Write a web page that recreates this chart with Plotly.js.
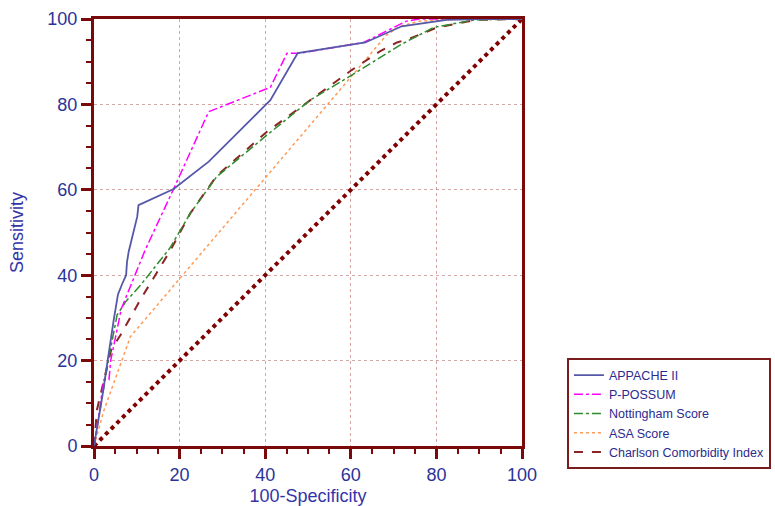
<!DOCTYPE html>
<html>
<head>
<meta charset="utf-8">
<script src="https://cdn.plot.ly/plotly-3.0.1.min.js"></script>
<style>html,body{margin:0;padding:0;background:#fff;}#chart{width:775px;height:506px;}</style>
</head>
<body>
<div id="chart"></div>
<script>
// Data
const apacheX = [0, 2, 4.6, 5.6, 6.6, 7.5, 7.7, 8.1, 10.1, 10.4, 18.6, 26.8, 41.2, 47.6, 63.4, 71.9, 82.4, 90, 100];
const apacheY = [0, 12, 29.5, 35.5, 38, 40, 43, 45.5, 53.7, 56.4, 60.2, 66.6, 81, 92, 94.5, 98.3, 99.8, 100, 100];

const possumX = [0, 0.4, 2.3, 3.5, 3.9, 6.4, 12, 18.6, 26.8, 41.2, 45.1, 48.2, 63, 73, 76, 100];
const possumY = [0, 2.2, 15.5, 15.5, 20, 32.2, 46, 60.2, 78.3, 84, 92, 92, 94.5, 99.5, 100, 100];

const nottX = [0, 3.5, 5.4, 7.4, 10.9, 17.7, 22.5, 28.7, 40.4, 50.5, 60.3, 71.5, 79.3, 89, 100];
const nottY = [0, 20.9, 30.7, 33.8, 37.7, 46.3, 54.5, 63.1, 72.8, 81, 86.9, 93.9, 98, 99.8, 100];

const asaX = [0, 2.2, 8.5, 68.4, 71.5, 76, 86, 100];
const asaY = [0, 8, 25.6, 96.3, 98.3, 99.5, 100, 100];

const charlX = [0, 0.7, 4.0, 6.2, 10.8, 17.9, 22.5, 28.7, 40.4, 50.5, 60.3, 66.9, 70.8, 74, 80.1, 89.4, 100];
const charlY = [0, 8.5, 22.5, 26, 34.2, 45.9, 54.5, 63.3, 73.6, 81, 88.1, 92.5, 94.5, 95.5, 98, 99.8, 100];

const diagX = [0, 100];
const diagY = [0, 100];

const names = ["APPACHE II", "P-POSSUM", "Nottingham Score", "ASA Score", "Charlson Comorbidity Index"];

const frame = '#7a0a0a';
const tickText = '#2b3399';

const traces = [
  {x: diagX, y: diagY, mode: 'lines', showlegend: false, hoverinfo: 'skip',
   line: {color: '#800000', width: 4, dash: 'dot'}},
  {x: asaX, y: asaY, name: names[3], legendrank: 4, mode: 'lines', line: {color: '#ff9a55', width: 1.5, dash: 'dot'}},
  {x: charlX, y: charlY, name: names[4], legendrank: 5, mode: 'lines', line: {color: '#8b2525', width: 2, dash: 'dash'}},
  {x: nottX, y: nottY, name: names[2], legendrank: 3, mode: 'lines', line: {color: '#2e8b2e', width: 1.5, dash: 'dashdot'}},
  {x: possumX, y: possumY, name: names[1], legendrank: 2, mode: 'lines', line: {color: '#ff00ff', width: 1.5, dash: 'dashdot'}},
  {x: apacheX, y: apacheY, name: names[0], legendrank: 1, mode: 'lines', line: {color: '#5558a8', width: 1.8}}
];

const axisCommon = {
  range: [0, 100], dtick: 20, tick0: 0,
  showline: true, linecolor: frame, linewidth: 3, mirror: true,
  ticks: 'outside', ticklen: 10, tickwidth: 3, tickcolor: frame,
  minor: {dtick: 5, ticks: 'outside', ticklen: 5, tickwidth: 2, tickcolor: frame, showgrid: false},
  showgrid: true, gridcolor: 'rgba(160,60,60,0.45)', gridwidth: 1, griddash: 'dot',
  zeroline: false, fixedrange: true,
  tickfont: {family: 'Liberation Sans, Arial, sans-serif', size: 18, color: tickText}
};

const layout = {
  width: 775, height: 506,
  margin: {l: 93.5, r: 253, t: 19, b: 60, autoexpand: false},
  paper_bgcolor: '#fff', plot_bgcolor: '#fff',
  font: {family: 'Liberation Sans, Arial, sans-serif'},
  xaxis: Object.assign({}, axisCommon, {
    title: {text: '100-Specificity', standoff: 6, font: {size: 18, color: '#3434a8'}}
  }),
  yaxis: Object.assign({}, axisCommon, {
    title: {text: 'Sensitivity', standoff: 20, font: {size: 18, color: '#3434a8'}}
  }),
  legend: {
    x: 1.105, y: 0.205, xanchor: 'left', yanchor: 'top',
    bgcolor: '#fff', bordercolor: '#7b1c1c', borderwidth: 2,
    font: {size: 12.5, color: '#2b2b8f', family: 'Liberation Sans, Arial, sans-serif'},
    itemwidth: 30, tracegroupgap: 0
  },
  showlegend: true
};

Plotly.newPlot('chart', traces, layout, {displayModeBar: false, staticPlot: true});
</script>
</body>
</html>
